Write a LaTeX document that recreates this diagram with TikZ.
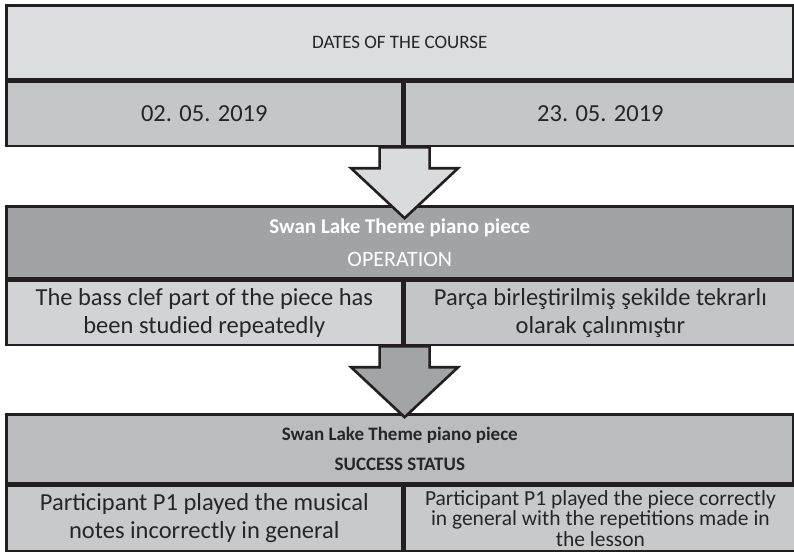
\documentclass[tikz,border=0pt]{standalone}
\usepackage{fontspec}
\setmainfont{Carlito}
\usetikzlibrary{calc}
\definecolor{ink}{HTML}{231F20}
\definecolor{txt}{HTML}{262626}
\definecolor{hdrA}{HTML}{DCDDDF}
\definecolor{dateC}{HTML}{C5C6C8}
\definecolor{arrA}{HTML}{DADBDD}
\definecolor{opH}{HTML}{A2A3A5}
\definecolor{opL}{HTML}{D2D3D5}
\definecolor{opR}{HTML}{C4C5C7}
\definecolor{arrB}{HTML}{A3A4A6}
\definecolor{suH}{HTML}{BBBCBE}
\definecolor{suC}{HTML}{C8C9CB}
\newcommand{\fz}[2]{\fontsize{#1}{#2}\selectfont}
% block arrow hanging below a coordinate: stem, then a wide triangular head
\newcommand{\blockarrow}[2]{%
  \draw[arrowbox, fill=#2]
    ($(#1)+(-25,0)$) -- ++(0,21) -- ++(-28.5,0) -- ($(#1)+(0,71)$)
    -- ($(#1)+(53.5,21)$) -- ++(-28.5,0) -- ++(0,-21) -- cycle;}
\begin{document}
\begin{tikzpicture}[x=1pt,y=-1pt,
  box/.style={draw=ink, line width=2.6pt, inner sep=0pt, anchor=north west,
    align=center, text=txt},
  arrowbox/.style={draw=ink, line width=2.6pt, line join=miter}]
\useasboundingbox (0,0) rectangle (794,551);

% dates of the course
\node[box, fill=hdrA, minimum width=787pt, minimum height=74pt, font=\fz{19}{23}]
  (course) at (5,4) {DATES OF THE COURSE};
\node[box, fill=dateC, minimum width=396pt, minimum height=64pt, font=\fz{24.5}{28}]
  (d1) at (course.south west) {02. 05. 2019};
\node[box, fill=dateC, minimum width=391pt, minimum height=64pt, font=\fz{24.5}{28}]
  (d2) at (d1.north east) {23. 05. 2019};

% operation
\node[box, fill=opH, text=white, minimum width=787pt, minimum height=72pt, font=\fz{21}{33}]
  (op) at (5,205) {\bfseries Swan Lake Theme piano piece\\\fz{22}{33}OPERATION};
\node[box, fill=opL, minimum width=396pt, minimum height=64pt, font=\fz{24.5}{27.5}]
  (op1) at (op.south west) {The bass clef part of the piece has\\been studied repeatedly};
\node[box, fill=opR, minimum width=391pt, minimum height=64pt, font=\fz{24.5}{27.5}]
  (op2) at (op1.north east) {Parça birleştirilmiş şekilde tekrarlı\\olarak çalınmıştır};

% success status
\node[box, fill=suH, minimum width=787pt, minimum height=69pt, font=\fz{19}{30}\bfseries]
  (su) at (5,413) {Swan Lake Theme piano piece\\SUCCESS STATUS};
\node[box, fill=suC, minimum width=396pt, minimum height=65pt, font=\fz{24.5}{28}]
  (su1) at (su.south west) {Participant P1 played the musical\\notes incorrectly in general};
\node[box, fill=suC, minimum width=391pt, minimum height=65pt, font=\fz{21.5}{20.5}]
  (su2) at (su1.north east) {Participant P1 played the piece correctly\\in general with the repetitions made in\\the lesson};

% arrows between the blocks
\coordinate (a1) at ($(d1.south east)+(1,0)$);
\coordinate (a2) at ($(op1.south east)+(1,0)$);
\blockarrow{a1}{arrA}
\blockarrow{a2}{arrB}
\end{tikzpicture}
\end{document}
